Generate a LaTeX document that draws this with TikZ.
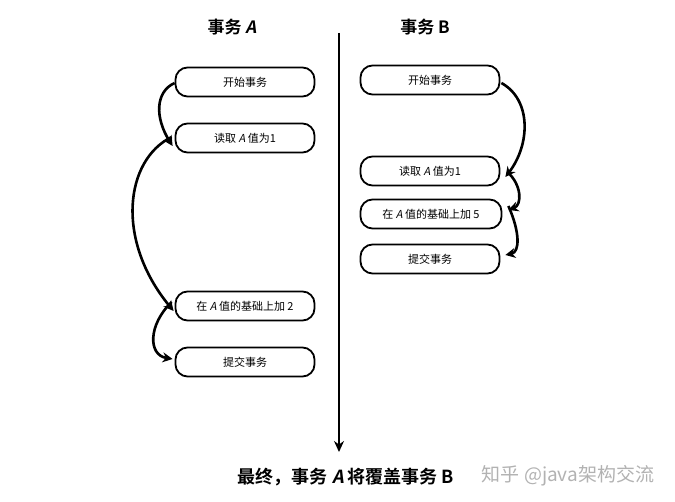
\documentclass[tikz,border=0pt]{standalone}
\usepackage{fontspec}
\setmainfont{Noto Sans CJK SC}[AutoFakeSlant=0.2]
\newfontfamily\cjkb{Noto Sans CJK SC Bold}[AutoFakeSlant=0.2]
\usetikzlibrary{arrows.meta}
\begin{document}
\begin{tikzpicture}[x=1pt,y=-1pt,
  stepbox/.style={draw,line width=1.8pt,rounded corners=12pt,minimum width=139pt,minimum height=29pt,font=\fontsize{11}{12}\selectfont,inner sep=0pt},
  title/.style={font=\cjkb\fontsize{17}{19}\selectfont},
  flow/.style={line width=2.6pt,-{Stealth[length=10pt,width=10pt]}}]
\useasboundingbox (0,0) rectangle (675,502);
\node[title] (ta) at (232,27) {事务 \textit{A}};
\node[title] (tb) at (425,27) {事务 B};
\coordinate (top) at (339,33);
\coordinate (bot) at (339,452);
\draw[line width=2.4pt,-{Stealth[length=11pt,width=10pt]}] (top) -- (bot);
% left
\node[stepbox] (a1) at (245,82) {开始事务};
\node[stepbox] (a2) at (245,138) {读取 \textit{A} 值为1};
\node[stepbox] (a3) at (245,306) {在 \textit{A} 值的基础上加 2};
\node[stepbox] (a4) at (245,362) {提交事务};
% right
\node[stepbox] (b1) at (430,80) {开始事务};
\node[stepbox] (b2) at (430,171) {读取 \textit{A} 值为1};
\node[stepbox,minimum width=141pt] (b3) at (431,214) {在 \textit{A} 值的基础上加 5};
\node[stepbox] (b4) at (430,259) {提交事务};
% left arrows
\draw[flow] ([yshift=-1pt]a1.west) .. controls (155,92) and (155,118) .. ([xshift=-2pt,yshift=-8pt]a2.west);
\draw[flow] ([xshift=-3pt,yshift=1pt]a2.west) .. controls (125,160) and (115,240) .. ([xshift=-1pt,yshift=-5pt]a3.west);
\draw[flow] ([xshift=-3pt,yshift=4pt]a3.west) .. controls (148,325) and (148,355) .. ([xshift=-2pt,yshift=3pt]a4.west);
% right arrows
\draw[flow] ([xshift=1pt,yshift=-3pt]b1.east) .. controls (532,100) and (530,145) .. ([xshift=5pt,yshift=-6pt]b2.east);
\draw[flow] ([xshift=7pt,yshift=-1pt]b2.east) .. controls (522,185) and (522,205) .. ([xshift=6pt,yshift=4pt]b3.east);
\draw[flow] ([xshift=6pt,yshift=8pt]b3.east) .. controls (520,232) and (520,252) .. ([xshift=5pt,yshift=4pt]b4.east);
% bottom text
\node[font=\cjkb\fontsize{18}{20}\selectfont] (res) at (346,477) {最终，事务 \textit{A} 将覆盖事务 B};
\node[font=\fontsize{19}{21}\selectfont,text=black!30] (wm) at (568,476) {知乎 @java架构交流};
\end{tikzpicture}
\end{document}
